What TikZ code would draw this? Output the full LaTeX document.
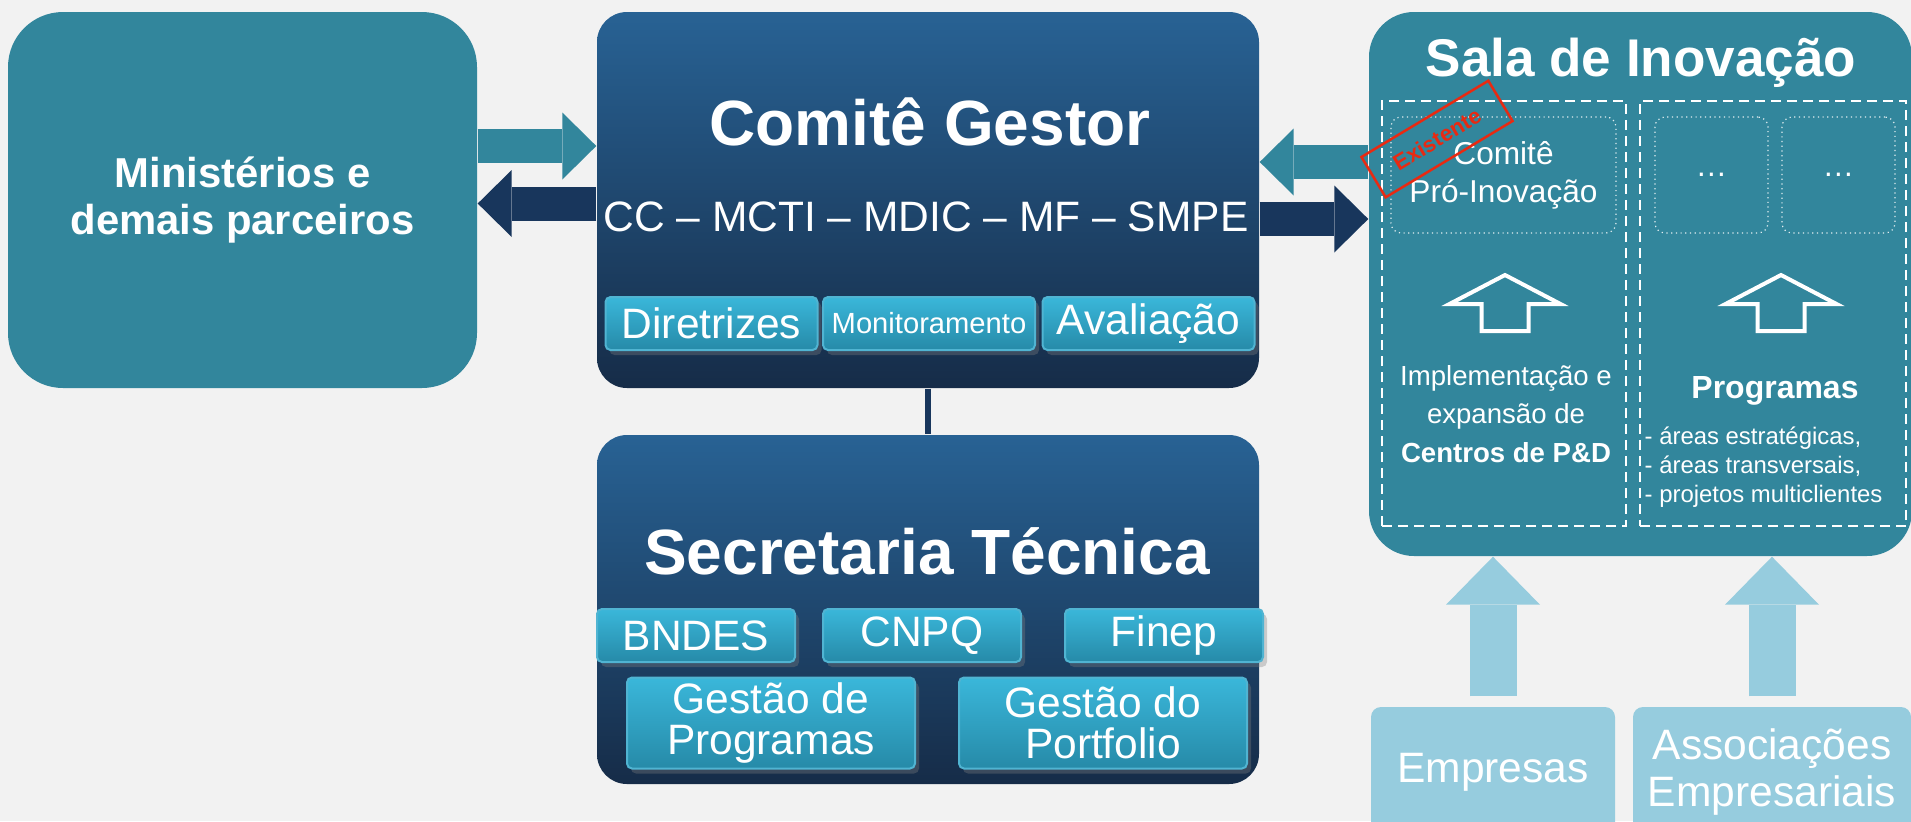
\documentclass[tikz,border=0pt]{standalone}
\usepackage{fontspec}
\setmainfont{Liberation Sans}
\usepackage{tikz}
\usetikzlibrary{arrows.meta,shadows}
\definecolor{PageGray}{RGB}{242,242,242}
\definecolor{PanelTeal}{RGB}{50,134,156}
\definecolor{BoardTop}{RGB}{40,98,148}
\definecolor{BoardBottom}{RGB}{22,44,72}
\definecolor{ArrowNavy}{RGB}{24,54,92}
\definecolor{KeyTop}{RGB}{58,183,218}
\definecolor{KeyBottom}{RGB}{38,138,168}
\definecolor{KeyEdge}{RGB}{80,180,210}
\definecolor{SkyBlue}{RGB}{150,204,222}
\definecolor{StampRed}{RGB}{232,42,18}
\newcommand{\fsz}[2]{\fontsize{#1}{#2}\selectfont}

\begin{document}
\begin{tikzpicture}[x=0.1mm,y=-0.1mm,
  board/.style={rounded corners=3mm,top color=BoardTop,bottom color=BoardBottom,inner sep=0pt},
  key/.style={rounded corners=0.5mm,top color=KeyTop,bottom color=KeyBottom,draw=KeyEdge,line width=0.2mm,
    text=white,inner sep=0pt,minimum height=5.3mm,drop shadow={opacity=0.35,shadow xshift=0.4mm,shadow yshift=-0.5mm}},
  bigarrow/.style={line width=3.4mm,-{Triangle[length=3.4mm,width=6.7mm,line width=0pt]}},
  skyarrow/.style={SkyBlue,line width=4.7mm,-{Triangle[length=4.8mm,width=9.4mm,line width=0pt]}},
  panel/.style={draw=white,line width=0.25mm,dash pattern=on 1mm off 0.6mm,inner sep=0pt},
  innerbox/.style={draw=white!85!PanelTeal,line width=0.12mm,densely dotted,rounded corners=1mm,inner sep=0pt,
    minimum height=11.6mm,text=white}]
  \fill[PageGray] (0,0) rectangle (1911,821);
  \useasboundingbox (0,0) rectangle (1911,821);

  \node[fill=PanelTeal,rounded corners=5.5mm,minimum width=46.9mm,minimum height=37.6mm,text=white,
    font=\fsz{11.9}{13.5}\bfseries,align=center] (min) at (242.5,200) {Ministérios e\\demais parceiros};

  % Comite Gestor
  \node[board,minimum width=66.2mm,minimum height=37.6mm] (cg) at (928,200) {};
  \node[text=white,font=\fsz{18.2}{22}\bfseries] (cgtitle) at (930,122) {Comitê Gestor};
  \node[text=white,font=\fsz{12.1}{14}] (cgmembers) at (926,217) {CC – MCTI – MDIC – MF – SMPE};
  \foreach \nm/\cx/\txt in {dir/711.5/Diretrizes, mon/929/{\fsz{8.3}{10}Monitoramento}, aval/1148.5/Avaliação}{
    \node[key,minimum width=21.2mm,font=\fsz{12.1}{14}] (\nm) at (\cx,323.5) {\txt};
  }

  % Secretaria Tecnica
  \node[board,minimum width=66.2mm,minimum height=34.9mm] (st) at (928,609.5) {};
  \node[text=white,font=\fsz{18.2}{22}\bfseries] (sttitle) at (927,551) {Secretaria Técnica};
  \foreach \nm/\cx/\txt in {bnd/696/BNDES, cnpq/922/CNPQ, finep/1164/Finep}{
    \node[key,minimum width=19.8mm,font=\fsz{12.1}{14}] (\nm) at (\cx,635.5) {\txt};
  }
  \foreach \nm/\cx/\txt in {gprog/771/{Gestão de\\Programas}, gport/1103/{Gestão do\\Portfolio}}{
    \node[key,minimum width=28.8mm,minimum height=9.1mm,align=center,font=\fsz{12.1}{11.6}] (\nm) at (\cx,723) {\txt};
  }
  \draw[ArrowNavy,line width=0.6mm] (cg.south) -- (st.north);

  % Sala de Inovacao
  \node[fill=PanelTeal,rounded corners=4.5mm,minimum width=54.3mm,minimum height=54.4mm] (sala) at (1640.5,284) {};
  \node[text=white,font=\fsz{15.1}{18}\bfseries] (salatitle) at (1641,63) {Sala de Inovação};
  \node[panel,minimum width=24.4mm,minimum height=42.5mm] (lp) at (1504,313.5) {};
  \node[panel,minimum width=26.6mm,minimum height=42.5mm] (rp) at (1773,313.5) {};
  \node[innerbox,minimum width=22.5mm,align=center,font=\fsz{9}{10.8}] (cpi) at (1503.5,175) {Comitê\\Pró-Inovação};
  \foreach \nm/\cx in {more1/1711.5, more2/1838.5}{
    \node[innerbox,minimum width=11.3mm,font=\fsz{9}{11}] (\nm) at (\cx,175) {…};
  }
  \foreach \cx in {1505,1781}{
    \draw[white,line width=0.4mm] (\cx,275) -- (\cx+55.5,304) -- (\cx+23.5,304) -- (\cx+23.5,331)
      -- (\cx-23.5,331) -- (\cx-23.5,304) -- (\cx-55.5,304) -- cycle;
  }
  \node[text=white,align=center,font=\fsz{7.85}{10.9}] (impl) at (1506,414) {Implementação e\\expansão de\\\textbf{Centros de P\&D}};
  \node[text=white,font=\fsz{9.1}{11}\bfseries] (prog) at (1775,391) {Programas};
  \node[text=white,align=left,anchor=west,inner sep=0pt,font=\fsz{6.8}{8.25}] (areas) at (1644,467)
    {- áreas estratégicas,\\- áreas transversais,\\- projetos multiclientes};

  % Arrows between the boards
  \draw[bigarrow,PanelTeal] (min.east |- 0,146) -- (cg.west |- 0,146);
  \draw[bigarrow,ArrowNavy] (cg.west |- 0,203.5) -- (min.east |- 0,203.5);
  \draw[bigarrow,PanelTeal] (sala.west |- 0,162) -- (cg.east |- 0,162);
  \draw[bigarrow,ArrowNavy] (cg.east |- 0,219) -- (sala.west |- 0,219);

  \node[draw=StampRed,line width=0.25mm,rotate=31,minimum width=14.8mm,minimum height=4.7mm,inner sep=0pt,
    text=StampRed,font=\fsz{6.3}{7}\bfseries] (stamp) at (1437,139) {Existente};

  % Empresas
  \node[fill=SkyBlue,rounded corners=1mm,minimum width=24.4mm,minimum height=13mm,text=white,
    font=\fsz{12.1}{14}] (emp) at (1493,772) {Empresas};
  \node[fill=SkyBlue,rounded corners=1mm,minimum width=27.8mm,minimum height=13mm,text=white,align=center,
    font=\fsz{12.1}{13.1}] (asso) at (1772,772) {Associações\\Empresariais};
  \draw[skyarrow] ([yshift=1mm]emp.north) -- (emp.north |- sala.south);
  \draw[skyarrow] ([yshift=1mm]asso.north) -- (asso.north |- sala.south);
\end{tikzpicture}
\end{document}
